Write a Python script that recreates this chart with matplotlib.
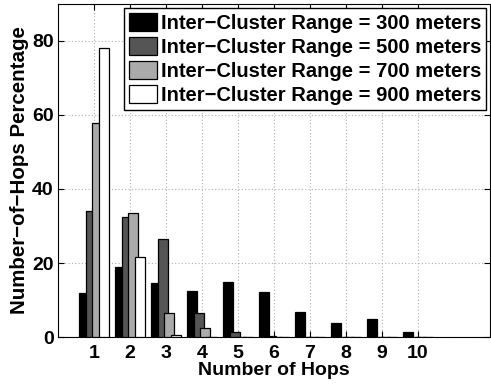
import numpy as np
import matplotlib
matplotlib.use("Agg")
import matplotlib.pyplot as plt

# Data
hops = [1, 2, 3, 4, 5, 6, 7, 8, 9, 10]
range_300 = [11.8, 19.0, 14.5, 12.5, 14.9, 12.2, 6.9, 3.8, 4.9, 1.3]
range_500 = [34.1, 32.3, 26.4, 6.4, 1.3, 0.3, 0, 0, 0, 0]
range_700 = [57.8, 33.4, 6.4, 2.5, 0, 0, 0, 0, 0, 0]
range_900 = [78.0, 21.5, 0.5, 0, 0, 0, 0, 0, 0, 0]
series_labels = ["Inter\u2212Cluster Range = 300 meters",
                 "Inter\u2212Cluster Range = 500 meters",
                 "Inter\u2212Cluster Range = 700 meters",
                 "Inter\u2212Cluster Range = 900 meters"]
colors = ["#000000", "#555555", "#aaaaaa", "#ffffff"]

plt.rcParams["font.family"] = ["Liberation Sans", "DejaVu Sans"]
plt.rcParams["font.weight"] = "bold"

fig = plt.figure(figsize=(4.91, 3.87), dpi=100)
ax = fig.add_axes([0.118, 0.129, 0.880, 0.861])

x = np.array(hops)
step = 0.184
width = 0.276
all_series = [range_300, range_500, range_700, range_900]
for i, vals in enumerate(all_series):
    ax.bar(x + (i - 1.5) * step, vals, width=width, color=colors[i],
           edgecolor="black", linewidth=0.9, label=series_labels[i], zorder=3)

ax.set_xlim(0, 12)
ax.set_ylim(0, 90)
ax.set_xticks(hops)
ax.set_yticks([0, 20, 40, 60, 80])
ax.tick_params(direction="in", top=True, right=True, labelsize=14, length=4)
ax.tick_params(axis="x", pad=6)
ax.tick_params(axis="y", pad=3)
for lab in ax.get_xticklabels() + ax.get_yticklabels():
    lab.set_fontweight("bold")
ax.grid(True, linestyle=(0, (1, 2)), color="#b0b0b0", linewidth=0.8, zorder=0)
ax.set_axisbelow(True)

ax.set_xlabel("Number of Hops", fontsize=14, fontweight="bold", labelpad=0)
ax.set_ylabel("Number\u2212of\u2212Hops Percentage", fontsize=14.8, fontweight="bold", labelpad=2)

leg = ax.legend(loc="upper right", prop={"weight": "bold", "size": 14.5},
                fancybox=False, edgecolor="black", framealpha=1,
                handlelength=1.35, handleheight=1.0, handletextpad=0.2,
                labelspacing=0.2, borderpad=0.25, borderaxespad=0.2)
leg.get_frame().set_linewidth(1.0)

plt.savefig("out.png", dpi=100)
